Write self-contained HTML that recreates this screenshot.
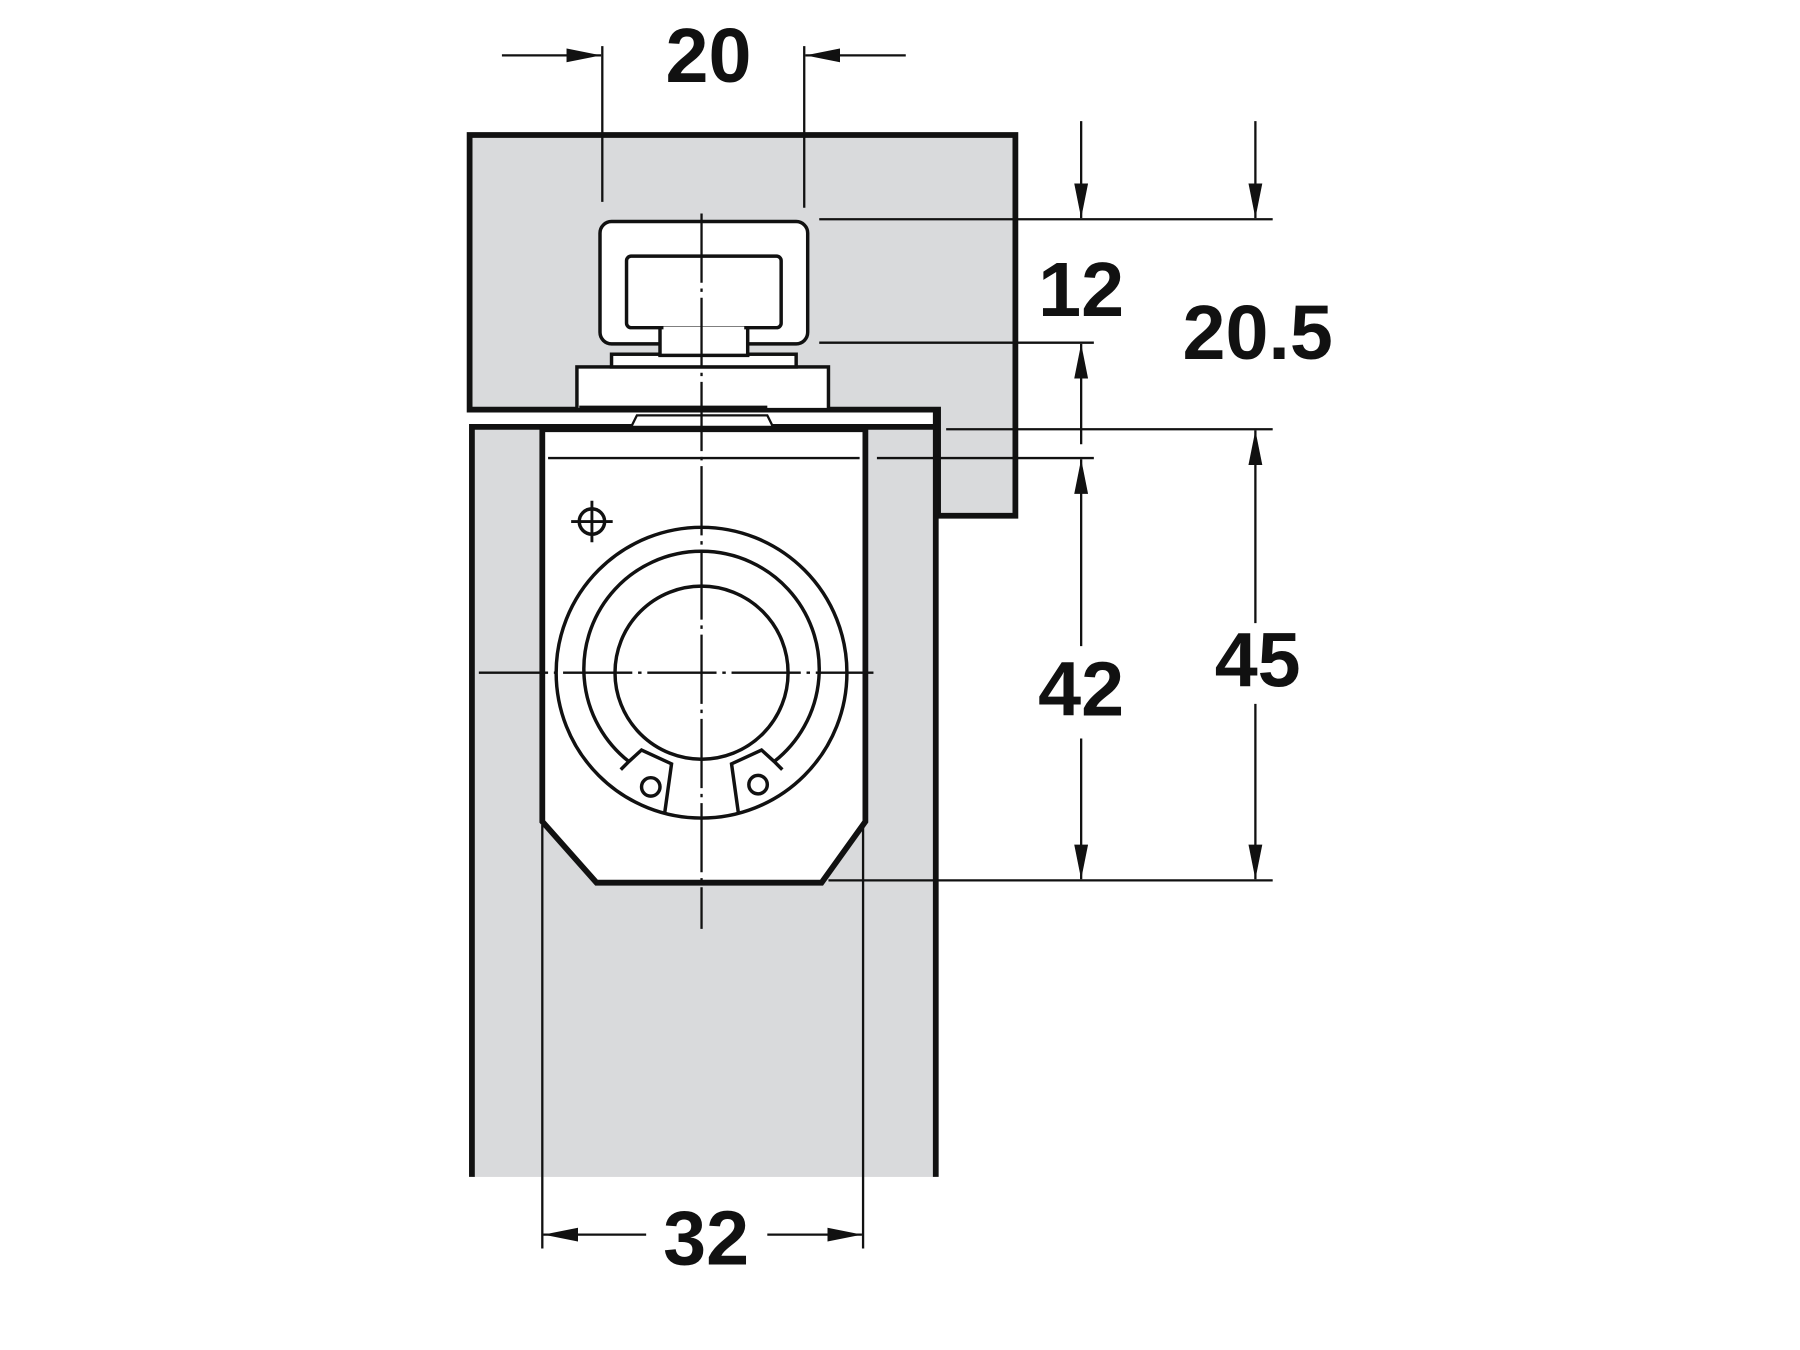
<!DOCTYPE html>
<html><head><meta charset="utf-8"><style>
html,body{margin:0;padding:0;background:#fff;}
svg{display:block;}
text{font-family:"Liberation Sans",Arial,sans-serif;font-weight:bold;font-size:67px;fill:#111;text-anchor:middle;}
</style></head><body>
<svg width="1800" height="1350" viewBox="0 0 1560 1170" xmlns="http://www.w3.org/2000/svg">
<defs>
<marker id="a" viewBox="0 0 30 12" refX="30" refY="6" markerWidth="30" markerHeight="12" markerUnits="userSpaceOnUse" orient="auto"><path d="M0,0 L30,6 L0,12 z" fill="#111"/></marker>
</defs>
<rect x="409" y="370" width="402" height="650" fill="#d9dadc"/>
<path d="M407,117 L880,117 L880,447 L813,447 L813,355 L407,355 Z" fill="#d9dadc" stroke="#111" stroke-width="5"/>
<rect x="410" y="358" width="400" height="10" fill="#fff"/>
<path d="M811,355 L811,1020" stroke="#111" stroke-width="5" fill="none"/>
<path d="M409,1020 L409,370 L811,370" stroke="#111" stroke-width="5" fill="none"/>
<path d="M470,372 L470,712 L517,765 L712,765 L750,712 L750,372 Z" fill="#fff" stroke="#111" stroke-width="5"/>
<line x1="475" y1="397" x2="745" y2="397" stroke="#111" stroke-width="2"/>
<path d="M547,370 L552,360 L665,360 L670,370 Z" fill="#fff" stroke="#111" stroke-width="2"/>
<rect x="500" y="318" width="218" height="37" fill="#fff" stroke="#111" stroke-width="3"/>
<rect x="530" y="307" width="160" height="11" fill="#fff" stroke="#111" stroke-width="3"/>
<rect x="520" y="192" width="180" height="106" rx="10" fill="#fff" stroke="#111" stroke-width="3"/>
<rect x="572" y="280" width="76" height="28" fill="#fff" stroke="#111" stroke-width="3"/>
<rect x="543" y="222" width="134" height="62" rx="4" fill="#fff" stroke="#111" stroke-width="3"/>
<rect x="575" y="283" width="70" height="10" fill="#fff"/>
<line x1="502" y1="354" x2="665" y2="354" stroke="#111" stroke-width="5"/>
<circle cx="608" cy="583" r="126" fill="none" stroke="#111" stroke-width="3"/>
<path d="M545,660 A102,102 0 1 1 671,660" fill="none" stroke="#111" stroke-width="3"/>
<circle cx="608" cy="583" r="75" fill="none" stroke="#111" stroke-width="3"/>
<path d="M545,660 L538,667 M545,660 L556,650 L582,662 L576,705" fill="none" stroke="#111" stroke-width="3"/>
<path d="M671,660 L678,667 M671,660 L660,650 L634,662 L640,705" fill="none" stroke="#111" stroke-width="3"/>
<circle cx="564" cy="682" r="8" fill="none" stroke="#111" stroke-width="3"/>
<circle cx="657" cy="680" r="8" fill="none" stroke="#111" stroke-width="3"/>
<circle cx="513" cy="452" r="11" fill="none" stroke="#111" stroke-width="3"/>
<path d="M495,452 L531,452 M513,434 L513,470" stroke="#111" stroke-width="2.5"/>
<line x1="608" y1="185" x2="608" y2="805" stroke="#111" stroke-width="2" stroke-dasharray="60,5,3,5"/>
<line x1="415" y1="583" x2="757" y2="583" stroke="#111" stroke-width="2" stroke-dasharray="60,5,3,5"/>
<g stroke="#111" stroke-width="2" fill="none">
<line x1="522" y1="40" x2="522" y2="175"/>
<line x1="697" y1="40" x2="697" y2="180"/>
<line x1="710" y1="190" x2="1103" y2="190"/>
<line x1="710" y1="297" x2="948" y2="297"/>
<line x1="820" y1="372" x2="1103" y2="372"/>
<line x1="760" y1="397" x2="948" y2="397"/>
<line x1="718" y1="763" x2="1103" y2="763"/>
<line x1="470" y1="715" x2="470" y2="1082"/>
<line x1="748" y1="715" x2="748" y2="1082"/>
<line x1="435" y1="48" x2="521" y2="48" marker-end="url(#a)"/>
<line x1="785" y1="48" x2="698" y2="48" marker-end="url(#a)"/>
<line x1="937" y1="105" x2="937" y2="189" marker-end="url(#a)"/>
<line x1="937" y1="385" x2="937" y2="298" marker-end="url(#a)"/>
<line x1="1088" y1="105" x2="1088" y2="189" marker-end="url(#a)"/>
<line x1="937" y1="560" x2="937" y2="398" marker-end="url(#a)"/>
<line x1="937" y1="640" x2="937" y2="762" marker-end="url(#a)"/>
<line x1="1088" y1="540" x2="1088" y2="373" marker-end="url(#a)"/>
<line x1="1088" y1="610" x2="1088" y2="762" marker-end="url(#a)"/>
<line x1="560" y1="1070" x2="471" y2="1070" marker-end="url(#a)"/>
<line x1="665" y1="1070" x2="747" y2="1070" marker-end="url(#a)"/>
</g>
<text x="614" y="71">20</text>
<text x="937" y="274">12</text>
<text x="1090" y="311">20.5</text>
<text x="937" y="620">42</text>
<text x="1090" y="595">45</text>
<text x="612" y="1096">32</text>
</svg>
</body></html>
